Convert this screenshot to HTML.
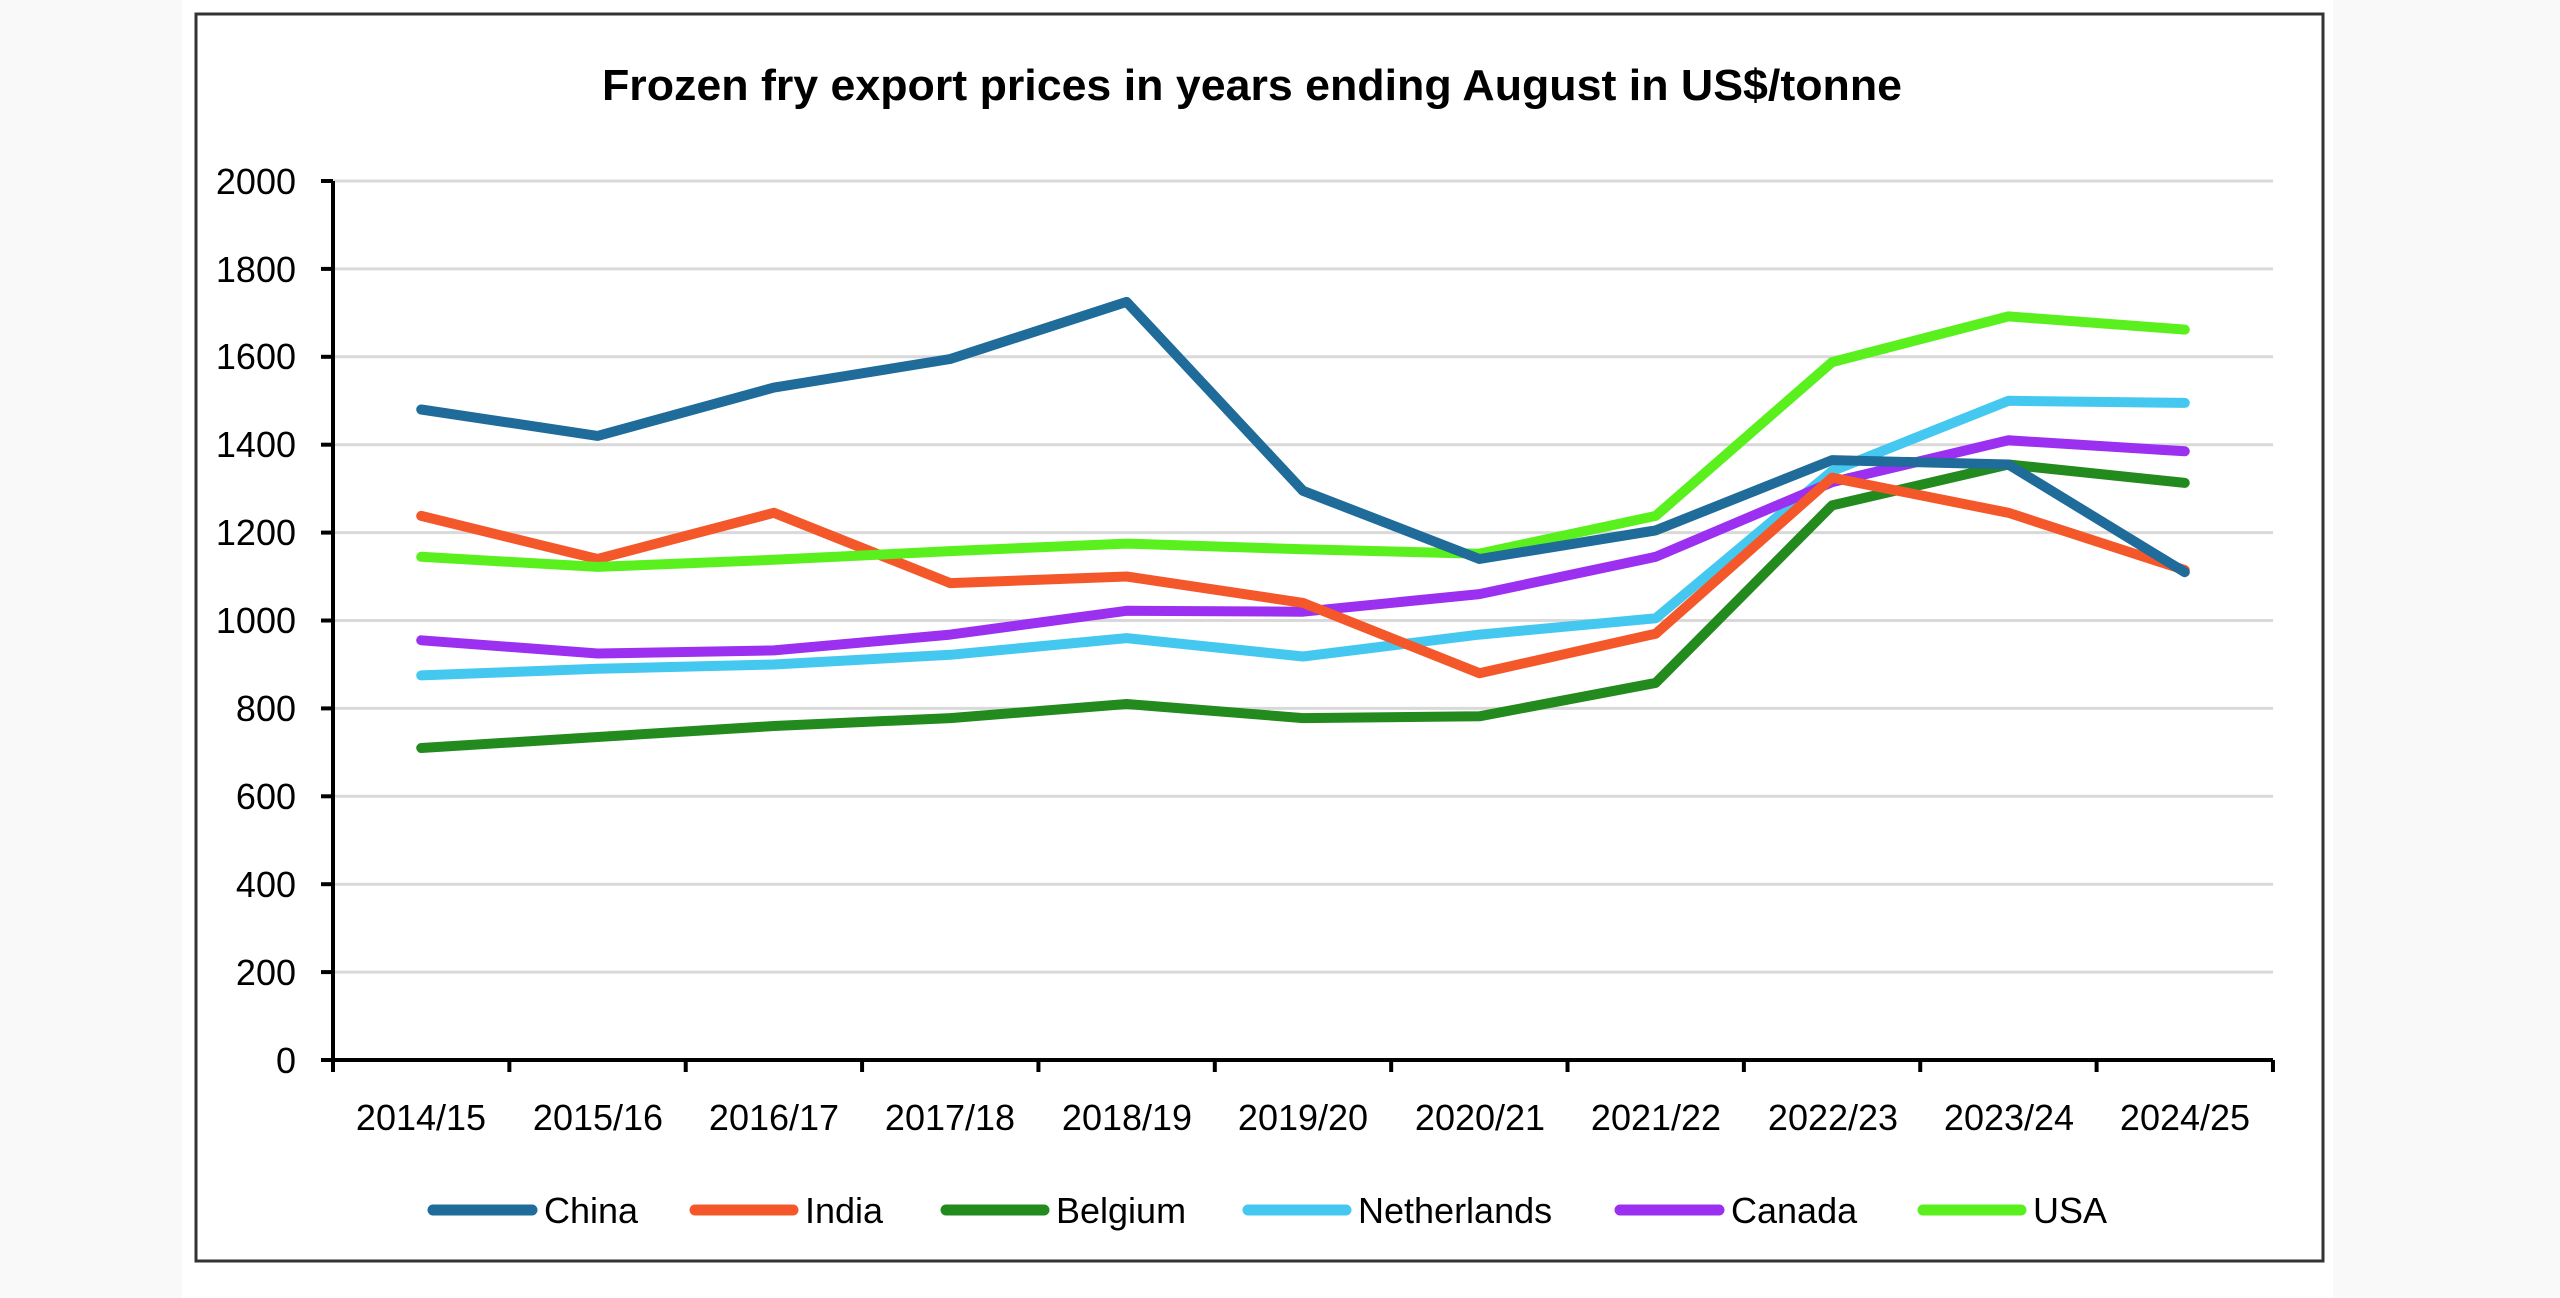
<!DOCTYPE html>
<html><head><meta charset="utf-8"><style>
html,body{margin:0;padding:0;background:#f9f9f9;}
svg{display:block;}
text{font-family:"Liberation Sans",sans-serif;fill:#000;}
</style></head><body>
<svg id="s" width="2560" height="1298" viewBox="0 0 2560 1298" xmlns="http://www.w3.org/2000/svg">
<rect x="0" y="0" width="2560" height="1298" fill="#f9f9f9"/>
<rect x="182" y="0" width="2151" height="1298" fill="#ffffff"/>
<rect x="196" y="14" width="2127" height="1247" fill="#fff" stroke="#333" stroke-width="3"/>
<text x="1252" y="100" font-size="44" font-weight="bold" text-anchor="middle" textLength="1300" lengthAdjust="spacingAndGlyphs">Frozen fry export prices in years ending August in US$/tonne</text>
<g id="grid"></g>
<g font-size="36" text-anchor="end">
<text x="296" y="1073">0</text><text x="296" y="985">200</text><text x="296" y="897">400</text><text x="296" y="809">600</text><text x="296" y="721">800</text><text x="296" y="633">1000</text><text x="296" y="545">1200</text><text x="296" y="457">1400</text><text x="296" y="369">1600</text><text x="296" y="282">1800</text><text x="296" y="194">2000</text>
</g>
<g font-size="36" text-anchor="middle">
<text x="421" y="1130">2014/15</text><text x="598" y="1130">2015/16</text><text x="774" y="1130">2016/17</text><text x="950" y="1130">2017/18</text><text x="1127" y="1130">2018/19</text><text x="1303" y="1130">2019/20</text><text x="1480" y="1130">2020/21</text><text x="1656" y="1130">2021/22</text><text x="1833" y="1130">2022/23</text><text x="2009" y="1130">2023/24</text><text x="2185" y="1130">2024/25</text>
</g>
<g id="lines" fill="none" stroke-width="10" stroke-linejoin="round" stroke-linecap="round"></g>
<g stroke-width="11" stroke-linecap="round">
<line x1="433" y1="1210" x2="532" y2="1210" stroke="#1f6b9a"/>
<line x1="695" y1="1210" x2="793" y2="1210" stroke="#f4582a"/>
<line x1="946" y1="1210" x2="1044" y2="1210" stroke="#238a1e"/>
<line x1="1248" y1="1210" x2="1346" y2="1210" stroke="#45c8f0"/>
<line x1="1620" y1="1210" x2="1719" y2="1210" stroke="#9b30f0"/>
<line x1="1923" y1="1210" x2="2021" y2="1210" stroke="#5af01e"/>
</g>
<g font-size="36">
<text x="544" y="1223">China</text><text x="805" y="1223">India</text><text x="1056" y="1223">Belgium</text><text x="1358" y="1223">Netherlands</text><text x="1731" y="1223">Canada</text><text x="2033" y="1223">USA</text>
</g>
</svg>
<script>
var NS="http://www.w3.org/2000/svg";
function el(p,t,a){var e=document.createElementNS(NS,t);for(var k in a)e.setAttribute(k,a[k]);p.appendChild(e);return e;}
var g=document.getElementById("grid"),L=document.getElementById("lines");
var x0=333,x1=2273,y0=1060,k=0.4395;
for(var i=1;i<=10;i++){var y=y0-i*200*k;el(g,"line",{x1:x0,x2:x1,y1:y,y2:y,stroke:"#d9d9d9","stroke-width":3});}
for(var i=0;i<=10;i++){var y=y0-i*200*k;el(g,"line",{x1:x0-12,x2:x0,y1:y,y2:y,stroke:"#000","stroke-width":4});}
el(g,"line",{x1:x0,x2:x0,y1:y0-2000*k,y2:y0+12,stroke:"#000","stroke-width":4});
el(g,"line",{x1:x0-12,x2:x1,y1:y0,y2:y0,stroke:"#000","stroke-width":4});
for(var i=0;i<=11;i++){var x=x0+i*176.36;el(g,"line",{x1:x,x2:x,y1:y0,y2:y0+12,stroke:"#000","stroke-width":4});}
var S=[["#238a1e",[710,735,760,778,810,778,782,858,1262,1355,1313]],
["#45c8f0",[875,890,900,922,960,918,968,1005,1340,1500,1495]],
["#9b30f0",[955,925,932,968,1022,1020,1060,1145,1315,1410,1385]],
["#f4582a",[1238,1140,1245,1085,1100,1040,880,970,1325,1245,1115]],
["#5af01e",[1145,1122,1138,1158,1175,1162,1152,1238,1588,1692,1662]],
["#1f6b9a",[1480,1420,1530,1595,1725,1295,1140,1205,1365,1355,1110]]];
S.forEach(function(s){var p=s[1].map(function(v,i){return (x0+88.2+176.36*i).toFixed(1)+","+(y0-v*k).toFixed(1);}).join(" ");el(L,"polyline",{points:p,stroke:s[0]});});
</script>
</body></html>
